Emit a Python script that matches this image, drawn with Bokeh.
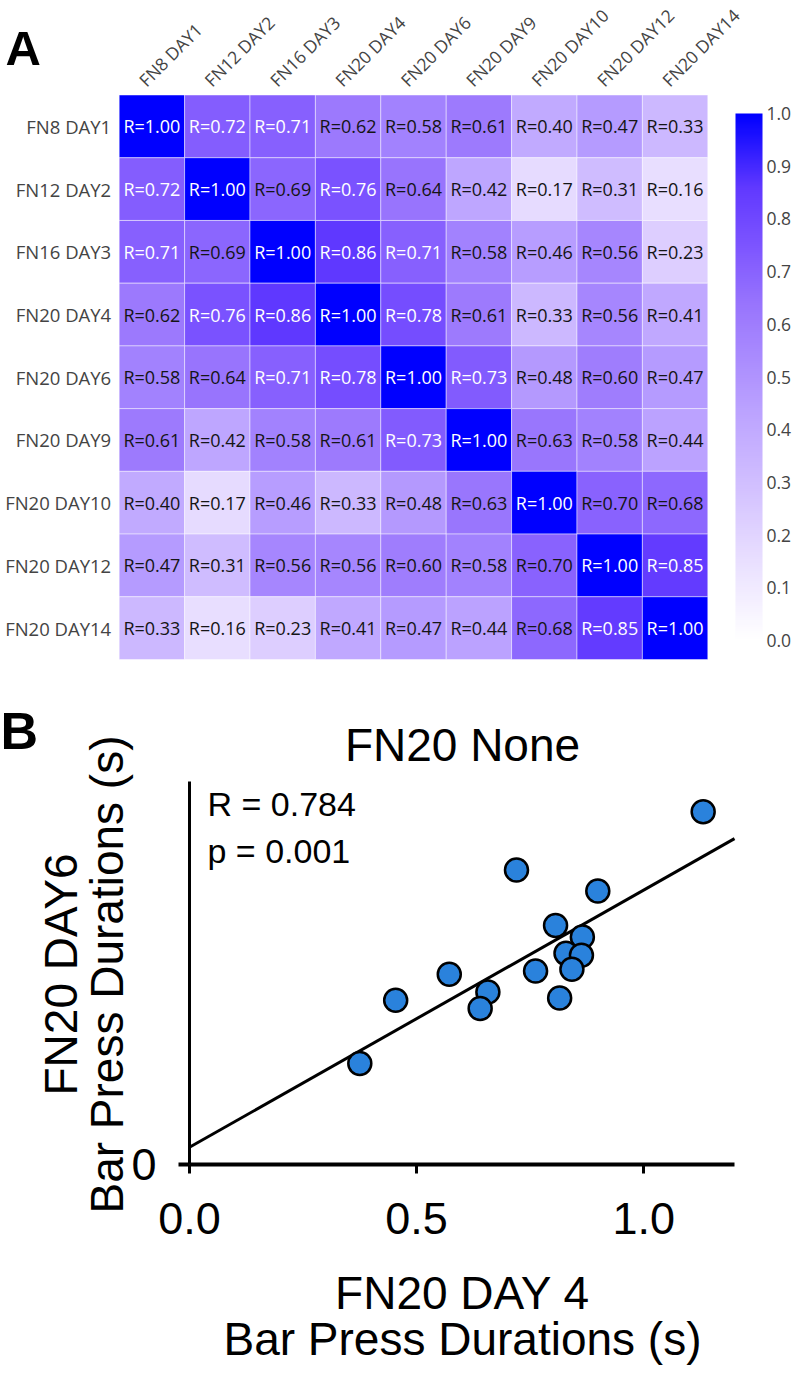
import numpy as np
from bokeh.plotting import figure
from bokeh.models import (ColumnDataSource, LinearColorMapper, ColorBar, FixedTicker,
                          Label, Range1d, PrintfTickFormatter, LinearAxis)
from bokeh.layouts import column
from bokeh.embed import file_html
from bokeh.resources import INLINE
from bokeh.core.properties import value

# ---------------- data: panel A (correlation matrix) ----------------
sessions = ["FN8 DAY1", "FN12 DAY2", "FN16 DAY3", "FN20 DAY4", "FN20 DAY6",
            "FN20 DAY9", "FN20 DAY10", "FN20 DAY12", "FN20 DAY14"]
r_fn8_day1 = [1.00, 0.72, 0.71, 0.62, 0.58, 0.61, 0.40, 0.47, 0.33]
r_fn12_day2 = [0.72, 1.00, 0.69, 0.76, 0.64, 0.42, 0.17, 0.31, 0.16]
r_fn16_day3 = [0.71, 0.69, 1.00, 0.86, 0.71, 0.58, 0.46, 0.56, 0.23]
r_fn20_day4 = [0.62, 0.76, 0.86, 1.00, 0.78, 0.61, 0.33, 0.56, 0.41]
r_fn20_day6 = [0.58, 0.64, 0.71, 0.78, 1.00, 0.73, 0.48, 0.60, 0.47]
r_fn20_day9 = [0.61, 0.42, 0.58, 0.61, 0.73, 1.00, 0.63, 0.58, 0.44]
r_fn20_day10 = [0.40, 0.17, 0.46, 0.33, 0.48, 0.63, 1.00, 0.70, 0.68]
r_fn20_day12 = [0.47, 0.31, 0.56, 0.56, 0.60, 0.58, 0.70, 1.00, 0.85]
r_fn20_day14 = [0.33, 0.16, 0.23, 0.41, 0.47, 0.44, 0.68, 0.85, 1.00]
colorbar_ticks = [0.0, 0.1, 0.2, 0.3, 0.4, 0.5, 0.6, 0.7, 0.8, 0.9, 1.0]

# ---------------- data: panel B (scatter) ----------------
day4_durations = [1.131, 0.720, 0.899, 0.806, 0.865, 0.829, 0.863, 0.842,
                  0.762, 0.572, 0.657, 0.454, 0.815, 0.640, 0.375]
day6_durations = [0.775, 0.647, 0.601, 0.525, 0.500, 0.464, 0.460, 0.429,
                  0.425, 0.418, 0.379, 0.361, 0.366, 0.343, 0.222]
fit_x_extent = [0.0, 1.2]
scatter_title = "FN20 None"
stat_r = "R = 0.784"
stat_p = "p = 0.001"
x_label_lines = ["FN20 DAY 4", "Bar Press Durations (s)"]
y_label_lines = ["FN20 DAY6", "Bar Press Durations (s)"]
x_ticks = [0.0, 0.5, 1.0]
y_ticks = [0]

# ---------------- colour scale (white -> lavender -> blue) ----------------
stops_t = [0.0, 0.17, 0.31, 0.42, 0.64, 0.76, 0.86, 1.0]
stops_r = [255, 230, 207, 190, 152, 122, 97, 0]
stops_g = [255, 219, 188, 166, 116, 82, 57, 0]
stops_b = [255, 255, 255, 255, 253, 255, 255, 255]
tt = np.linspace(0, 1, 256)
palette = ["#%02x%02x%02x" % (int(round(np.interp(t, stops_t, stops_r))),
                              int(round(np.interp(t, stops_t, stops_g))),
                              int(round(np.interp(t, stops_t, stops_b)))) for t in tt]
mapper = LinearColorMapper(palette=palette, low=0.0, high=1.0)

matrix = [r_fn8_day1, r_fn12_day2, r_fn16_day3, r_fn20_day4, r_fn20_day6,
          r_fn20_day9, r_fn20_day10, r_fn20_day12, r_fn20_day14]
n = len(sessions)
xs, ys, vals, labels, tcols = [], [], [], [], []
for i, row in enumerate(matrix):
    for j, v in enumerate(row):
        xs.append(j + 0.5)
        ys.append(n - i - 0.5)
        vals.append(v)
        labels.append("R=%.2f" % v)
        tcols.append("white" if v > 0.705 else "#151515")
src = ColumnDataSource(dict(x=xs, y=ys, val=vals, label=labels, tcol=tcols))

# ---------------- panel A (frame fills the whole figure) ----------------
HA = 682
pA = figure(width=794, height=HA, x_range=Range1d(-1.815, 10.326),
            y_range=Range1d(-0.3667, 10.507), output_backend="svg",
            toolbar_location=None, x_axis_location=None, y_axis_location=None,
            min_border=0)
pA.grid.visible = False
pA.outline_line_color = None
pA.rect(x="x", y="y", width=1, height=1, source=src,
        fill_color={"field": "val", "transform": mapper},
        line_color="white", line_alpha=0.45, line_width=1)
pA.text(x="x", y="y", text="label", source=src, text_color="tcol",
        text_font=value("Open Sans"), text_font_size="18px",
        text_align="center", text_baseline="middle")
# row labels
pA.text(x=[0] * n, y=[n - i - 0.5 for i in range(n)], text=sessions,
        x_offset=-8, text_font=value("Open Sans"), text_font_size="18.5px",
        text_color="#444444", text_align="right", text_baseline="middle")
# column labels (rotated)
pA.text(x=[j + 0.5 for j in range(n)], y=[n] * n, text=sessions,
        angle=np.pi / 4, x_offset=-10, y_offset=-12,
        text_font=value("Open Sans"), text_font_size="17.5px",
        text_color="#444444", text_align="left", text_baseline="middle")

cb = ColorBar(color_mapper=mapper, location=(735, 42), width=27, height=527,
              padding=0, margin=0, ticker=FixedTicker(ticks=colorbar_ticks),
              formatter=PrintfTickFormatter(format="%.1f"),
              major_label_text_font="Open Sans", major_label_text_font_size="17.5px",
              major_label_text_color="#444444", major_tick_line_color=None,
              major_tick_out=0, major_tick_in=0,
              minor_tick_line_color=None, bar_line_color=None, label_standoff=4,
              background_fill_color=None, border_line_color=None)
pA.add_layout(cb)
pA.add_layout(Label(x=5, y=635, x_units="screen", y_units="screen", text="A",
                    text_baseline="alphabetic", text_font="Liberation Sans",
                    text_font_style="bold", text_font_size="49px", text_color="black"))

# ---------------- panel B (frame fills the figure, axes pinned at 0) ----------------
HB = 683
pB = figure(width=794, height=HB, x_range=Range1d(-0.4161, 1.3321),
            y_range=Range1d(-0.4418, 1.0593), output_backend="svg",
            toolbar_location=None, x_axis_location=None, y_axis_location=None,
            min_border=0)
pB.grid.visible = False
pB.outline_line_color = None

fx = np.array(fit_x_extent)
slope, intercept = np.polyfit(day4_durations, day6_durations, 1)
pB.line(x=fx, y=intercept + slope * fx, line_color="black", line_width=3)
pB.scatter(x=day4_durations, y=day6_durations, size=23, fill_color="#2a82dc",
           line_color="black", line_width=2.5)

xa = LinearAxis(fixed_location=0, bounds=(0, 1.2))
xa.ticker = FixedTicker(ticks=x_ticks)
xa.formatter = PrintfTickFormatter(format="%.1f")
xa.axis_line_width = 4
xa.major_tick_line_width = 3
xa.major_tick_out = 9
xa.major_tick_in = 0
xa.minor_tick_line_color = None
xa.major_label_text_font = "Liberation Sans"
xa.major_label_text_font_size = "45px"
xa.major_label_text_color = "black"
xa.major_label_standoff = 30
pB.add_layout(xa, "below")

ya = LinearAxis(fixed_location=0, bounds=(0, 0.842))
ya.ticker = FixedTicker(ticks=y_ticks)
ya.formatter = PrintfTickFormatter(format="%d")
ya.axis_line_width = 3
ya.major_tick_line_width = 4
ya.major_tick_out = 11
ya.major_tick_in = 0
ya.minor_tick_line_color = None
ya.major_label_text_font = "Liberation Sans"
ya.major_label_text_font_size = "45px"
ya.major_label_text_color = "black"
ya.major_label_standoff = 22
pB.add_layout(ya, "left")

def add_text(p, x, y, text, size, align="left", angle=0.0, bold=False):
    p.add_layout(Label(x=x, y=y, x_units="screen", y_units="screen", text=text,
                       angle=angle, text_align=align, text_baseline="alphabetic",
                       text_font="Liberation Sans", text_font_size=size,
                       text_font_style="bold" if bold else "normal",
                       text_color="black"))

add_text(pB, 0, 635, "B", "52px", bold=True)
add_text(pB, 462, 621, scatter_title, "46px", align="center")
add_text(pB, 207, 562, stat_r, "34px")
add_text(pB, 207, 515, stat_p, "34px")
add_text(pB, 462, 73, x_label_lines[0], "46px", align="center")
add_text(pB, 462, 27, x_label_lines[1], "46px", align="center")
add_text(pB, 60, 391, y_label_lines[0], "46px", align="center", angle=np.pi / 2)
add_text(pB, 106, 391, y_label_lines[1], "46px", align="center", angle=np.pi / 2)

layout = column(pA, pB, spacing=0)
open("out.html", "w").write(file_html(layout, INLINE))
